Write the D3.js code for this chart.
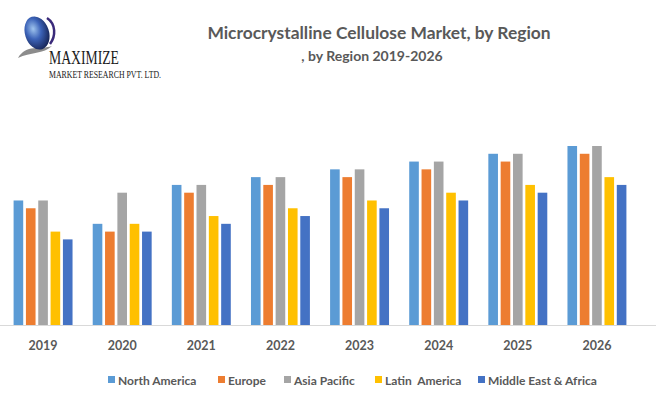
<!DOCTYPE html>
<html>
<head>
<meta charset="utf-8">
<script src="https://cdn.jsdelivr.net/npm/d3@7"></script>
<style>
  body { margin: 0; background: #fff; }
  svg { display: block; }
</style>
</head>
<body>
<script>
let years = ["2019", "2020", "2021", "2022", "2023", "2024", "2025", "2026"];
let regions = ["North America", "Europe", "Asia Pacific", "Latin  America", "Middle East & Africa"];
let colors = ["#5B9BD5", "#ED7D31", "#A5A5A5", "#FFC000", "#4472C4"];

// values (arbitrary units, no axis shown)
let northAmerica = [16, 13, 18, 19, 20, 21, 22, 23];
let europe = [15, 12, 17, 18, 19, 20, 21, 22];
let asiaPacific = [16, 17, 18, 19, 20, 21, 22, 23];
let latinAmerica = [12, 13, 14, 15, 16, 17, 18, 19];
let middleEast = [11, 12, 13, 14, 15, 16, 17, 18];
let series = [northAmerica, europe, asiaPacific, latinAmerica, middleEast];

let width = 656;
let height = 393;
let baseY = 325;
let textColor = "#595959";
let font = "Lato, 'Open Sans', sans-serif";

let svg = d3.select("body").append("svg").attr("width", width).attr("height", height);

let defs = svg.append("defs");
let grad = defs.append("radialGradient").attr("id", "globe").attr("cx", "40%").attr("cy", "35%").attr("r", "70%");
grad.append("stop").attr("offset", "0%").attr("stop-color", "#9fc4ee");
grad.append("stop").attr("offset", "45%").attr("stop-color", "#3c63b8");
grad.append("stop").attr("offset", "100%").attr("stop-color", "#14204f");

// logo
let logo = svg.append("g");
logo.append("path")
    .attr("d", "M18,58 C26,44 40,50 52,46 C44,54 30,52 18,58 Z")
    .attr("fill", "#8c8c8c");
logo.append("ellipse")
    .attr("cx", 37).attr("cy", 33).attr("rx", 12).attr("ry", 17)
    .attr("transform", "rotate(-18 37 33)")
    .attr("fill", "url(#globe)");
logo.append("path")
    .attr("d", "M47,18 C56,24 56,36 50,44")
    .attr("fill", "none").attr("stroke", "#3a2a7a").attr("stroke-width", 2.5);
logo.append("text")
    .attr("x", 49).attr("y", 64)
    .attr("font-family", "'Liberation Serif', 'DejaVu Serif', serif")
    .attr("font-size", 18).attr("fill", "#1a1a1a")
    .attr("textLength", 70).attr("lengthAdjust", "spacingAndGlyphs")
    .text("MAXIMIZE");
logo.append("text")
    .attr("x", 49).attr("y", 77.5)
    .attr("font-family", "'Liberation Serif', 'DejaVu Serif', serif")
    .attr("font-size", 9.5).attr("fill", "#1a1a1a")
    .attr("textLength", 112).attr("lengthAdjust", "spacingAndGlyphs")
    .text("MARKET RESEARCH PVT. LTD.");

// titles
svg.append("text")
    .attr("x", 379).attr("y", 39)
    .attr("text-anchor", "middle")
    .attr("font-family", font).attr("font-weight", "bold")
    .attr("font-size", 17.4).attr("fill", textColor)
    .text("Microcrystalline Cellulose Market, by Region");
svg.append("text")
    .attr("x", 372).attr("y", 61)
    .attr("text-anchor", "middle")
    .attr("font-family", font).attr("font-weight", "bold")
    .attr("font-size", 14).attr("fill", textColor)
    .text(", by Region 2019-2026");

// scales
let x0 = d3.scaleBand().domain(years).range([3.5, 636.5]).padding(0);
let groupW = x0.bandwidth() * 0.745;
let x1 = d3.scaleBand().domain(regions).range([0, groupW]).paddingInner(0.22).paddingOuter(0);
let y = d3.scaleLinear().domain([0, 23]).range([baseY, 146]);

let groups = svg.append("g").selectAll("g")
    .data(years)
    .join("g")
    .attr("transform", (d) => `translate(${x0(d) + (x0.bandwidth() - groupW) / 2},0)`);

groups.selectAll("rect")
    .data((d, i) => regions.map((r, k) => ({ region: r, value: series[k][i], color: colors[k] })))
    .join("rect")
    .attr("x", (d) => x1(d.region))
    .attr("width", x1.bandwidth())
    .attr("y", (d) => y(d.value))
    .attr("height", (d) => baseY - y(d.value))
    .attr("fill", (d) => d.color);

// x axis
let xAxis = svg.append("g")
    .attr("transform", `translate(0,${baseY})`)
    .call(d3.axisBottom(x0).tickSize(0).tickPadding(16));
xAxis.select(".domain").attr("d", `M0,0.5H${width}`).attr("stroke", "#d9d9d9");
xAxis.selectAll("text")
    .attr("font-family", font).attr("font-weight", "bold")
    .attr("font-size", 12.5).attr("fill", textColor);

// legend
let legendX = [108, 218, 284, 375, 478];
let legend = svg.append("g").selectAll("g")
    .data(regions)
    .join("g")
    .attr("transform", (d, i) => `translate(${legendX[i]},380)`);
legend.append("rect")
    .attr("x", 0).attr("y", -4).attr("width", 7).attr("height", 7)
    .attr("fill", (d, i) => colors[i]);
legend.append("text")
    .attr("x", 10).attr("y", 4.5)
    .attr("font-family", font).attr("font-weight", "bold")
    .attr("font-size", 12).attr("fill", textColor)
    .style("white-space", "pre")
    .text((d) => d);
</script>
</body>
</html>
